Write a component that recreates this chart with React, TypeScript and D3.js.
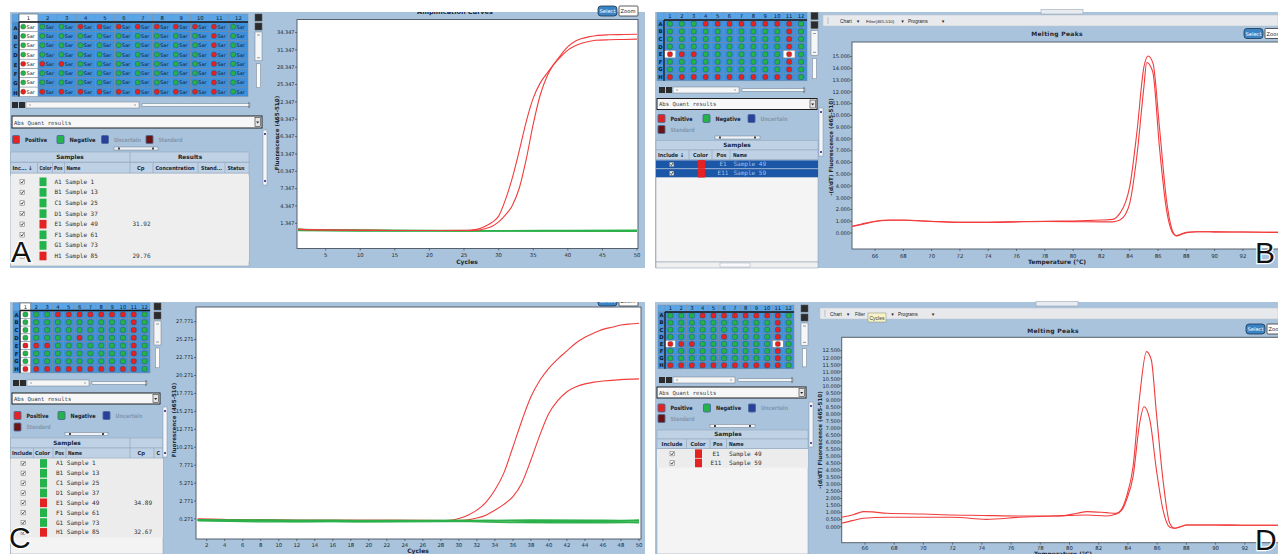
import React from 'react';
import * as d3 from 'd3';

const FONT = "'DejaVu Sans', 'Liberation Sans', sans-serif";
const MONO = "'DejaVu Sans Mono', 'Liberation Mono', monospace";
const ARIAL = "'Liberation Sans', Arial, sans-serif";
const BG = '#a9c3dc';
const BAND = '#bed1e5';
const RED = '#f23c3c';
const GREEN = '#2cb04a';
const SQ_RED = '#e52222';
const SQ_GREEN = '#24b24a';
const SQ_BLUE = '#2b3f9c';
const SQ_DARK = '#6e1212';

type P = [number, number];

// ---------------- plate layouts (g = negative, r = positive) ----------------
const plateAB = ['gggrrrrrrrrg', 'ggggggggggrg', 'ggggggggggrg', 'ggggggggggrg', 'rrrgggggggrg', 'ggggggggggrg', 'ggggggggggrg', 'rrrrrrrrrrrg'];
const plateCD = ['gggrrrrrrrrg', 'ggggggggggrg', 'ggggggggggrg', 'gggggrggggrg', 'rrrgggggggrg', 'ggggggggggrg', 'ggggggggggrg', 'rrrrrrrrrrrg'];
const rowLetters = ['A', 'B', 'C', 'D', 'E', 'F', 'G', 'H'];
const colNumbers = [1, 2, 3, 4, 5, 6, 7, 8, 9, 10, 11, 12];

// ---------------- sample tables ----------------
const samplePos = ['A1', 'B1', 'C1', 'D1', 'E1', 'F1', 'G1', 'H1'];
const sampleNo = [1, 13, 25, 37, 49, 61, 73, 85];
const sampleCls = ['g', 'g', 'g', 'g', 'r', 'g', 'g', 'r'];
const cpA = ['', '', '', '', '31.92', '', '', '29.76'];
const cpC = ['', '', '', '', '34.89', '', '', '32.67'];
const meltPos = ['E1', 'E11'];
const meltNo = [49, 59];

// ---------------- ticks ----------------
const ampATicksY = [1.347, 4.347, 7.347, 10.347, 13.347, 16.347, 19.347, 22.347, 25.347, 28.347, 31.347, 34.347];
const ampATicksX = [5, 10, 15, 20, 25, 30, 35, 40, 45, 50];
const ampCTicksY = [0.271, 2.771, 5.271, 7.771, 10.271, 12.771, 15.271, 17.771, 20.271, 22.771, 25.271, 27.771];
const ampCTicksX = [2, 4, 6, 8, 10, 12, 14, 16, 18, 20, 22, 24, 26, 28, 30, 32, 34, 36, 38, 40, 42, 44, 46, 48, 50];
const meltBTicksY = [0, 1, 2, 3, 4, 5, 6, 7, 8, 9, 10, 11, 12, 13, 14, 15];
const meltDTicksY = [0, 0.5, 1, 1.5, 2, 2.5, 3, 3.5, 4, 4.5, 5, 5.5, 6, 6.5, 7, 7.5, 8, 8.5, 9, 9.5, 10, 10.5, 11, 11.5, 12, 12.5];
const tempTicks = [66, 68, 70, 72, 74, 76, 78, 80, 82, 84, 86, 88, 90, 92];

// ---------------- panel A amplification (cycle, fluorescence) ----------------
const ampA_H1: P[] = [[1, 0.3], [5, 0.2], [10, 0.15], [15, 0.1], [20, 0.1], [25, 0.15], [26, 0.2], [27, 0.35], [28, 0.8], [29, 1.5], [30, 2.6], [31, 5.5], [32, 9.3], [33, 14.0], [34, 19.0], [35, 23.0], [36, 25.6], [37, 27.3], [38, 28.9], [39, 30.2], [40, 31.3], [41, 32.0], [42, 32.5], [43, 32.8], [44, 33.0], [46, 33.1], [48, 33.15], [50, 33.2]];
const ampA_E1: P[] = [[1, 0.3], [5, 0.2], [10, 0.15], [15, 0.1], [20, 0.1], [25, 0.1], [27, 0.15], [28, 0.4], [29, 0.8], [30, 1.6], [31, 2.8], [32, 4.5], [33, 7.5], [34, 12.5], [35, 18.5], [36, 23.5], [37, 26.8], [38, 28.9], [39, 30.5], [40, 31.9], [41, 32.8], [42, 33.3], [43, 33.6], [44, 33.8], [46, 33.95], [48, 34.0], [50, 34.05]];
const ampA_neg1: P[] = [[1, 0.35], [3, 0.25], [8, 0.15], [15, 0.1], [25, 0.1], [35, 0.05], [50, 0.0]];
const ampA_neg2: P[] = [[1, 0.2], [5, 0.1], [15, 0.05], [30, 0.1], [40, 0.05], [50, 0.05]];
const ampA_neg3: P[] = [[1, 0.1], [10, 0.0], [20, 0.05], [30, 0.0], [40, 0.1], [50, 0.1]];
const ampA_neg4: P[] = [[1, 0.3], [10, 0.2], [20, 0.15], [30, 0.1], [40, 0.15], [50, 0.2]];
const ampA_neg5: P[] = [[1, 0.15], [12, 0.1], [24, 0.0], [36, 0.05], [50, -0.05]];
const ampA_neg6: P[] = [[1, 0.25], [15, 0.15], [28, 0.1], [42, 0.05], [50, 0.1]];

// ---------------- panel C amplification ----------------
const ampC_H1: P[] = [[1, 0.25], [6, 0.15], [12, 0.1], [20, 0.1], [28, 0.05], [29, 0.1], [30, 0.35], [31, 0.8], [32, 1.5], [33, 2.6], [34, 4.3], [35, 6.7], [36, 10.3], [37, 14.0], [38, 17.3], [39, 19.6], [40, 21.3], [41, 22.6], [42, 23.7], [43, 24.8], [44, 25.6], [45, 26.2], [46, 26.7], [47, 27.0], [48, 27.3], [49, 27.45], [50, 27.55]];
const ampC_E1: P[] = [[1, 0.25], [6, 0.15], [12, 0.1], [20, 0.1], [29, 0.05], [30, 0.05], [31, 0.15], [32, 0.4], [33, 0.8], [34, 1.5], [35, 2.3], [36, 3.4], [37, 5.3], [38, 8.5], [39, 12.0], [40, 15.0], [41, 16.8], [42, 18.0], [43, 18.7], [44, 19.1], [45, 19.35], [46, 19.5], [48, 19.7], [50, 19.8]];
const ampC_neg1: P[] = [[1, 0.2], [6, 0.1], [12, -0.1], [20, 0.0], [30, 0.1], [40, -0.1], [50, 0.0]];
const ampC_neg2: P[] = [[1, 0.1], [8, 0.0], [16, 0.1], [24, -0.05], [34, 0.05], [44, -0.2], [50, -0.15]];
const ampC_neg3: P[] = [[1, 0.0], [10, -0.15], [20, -0.1], [30, -0.05], [36, -0.25], [46, -0.1], [50, -0.3]];
const ampC_neg4: P[] = [[1, 0.15], [10, 0.05], [18, 0.1], [28, 0.0], [38, 0.15], [48, 0.1], [50, 0.15]];
const ampC_neg5: P[] = [[1, 0.05], [14, -0.05], [22, -0.15], [32, -0.1], [42, -0.3], [50, -0.2]];
const ampC_neg6: P[] = [[1, 0.1], [9, 0.15], [19, 0.05], [26, 0.1], [40, 0.05], [50, 0.05]];

// ---------------- panel B melting peaks (temperature, -dF/dT) ----------------
const meltB_E1: P[] = [[64.4, 0.55], [65, 0.7], [66, 0.98], [67, 1.08], [68, 1.1], [70, 1.0], [72, 0.92], [74, 0.92], [76, 0.96], [78, 1.0], [80, 1.02], [81, 1.05], [82, 1.1], [82.8, 1.16], [83.3, 1.67], [83.7, 2.6], [84, 3.94], [84.5, 8.5], [85, 14.1], [85.3, 15.05], [85.65, 14.4], [86.1, 9.0], [86.6, 2.8], [87.1, -0.03], [87.3, -0.25], [87.6, -0.15], [88, 0.03], [88.8, 0.11], [90, 0.1], [92, 0.08], [94.5, 0.05]];
const meltB_E11: P[] = [[64.4, 0.6], [65, 0.75], [66, 1.0], [67, 1.1], [68, 1.08], [70, 0.98], [72, 0.9], [74, 0.9], [76, 0.95], [78, 0.98], [80, 0.97], [82, 0.95], [82.8, 0.95], [83.3, 1.1], [83.7, 1.6], [84, 2.52], [84.5, 6.5], [85, 12.4], [85.2, 14.5], [85.5, 14.1], [85.65, 13.6], [86.1, 7.3], [86.6, 1.96], [87.1, -0.1], [87.3, -0.22], [87.6, -0.1], [88, 0.05], [88.8, 0.11], [90, 0.1], [92, 0.08], [94.5, 0.05]];

// ---------------- panel D melting peaks ----------------
const meltD_E1: P[] = [[64.4, 0.67], [65.2, 0.85], [65.9, 1.07], [66.5, 1.05], [67.5, 0.95], [70, 0.9], [72, 0.83], [74, 0.8], [76.6, 0.76], [79.3, 0.76], [80.5, 0.95], [81.2, 1.07], [82.5, 1.0], [83.2, 0.95], [83.6, 1.3], [83.9, 2.13], [84.35, 4.26], [84.8, 9.23], [85.27, 12.43], [85.6, 11.84], [85.95, 8.05], [86.4, 3.32], [86.86, 0.24], [87.2, -0.11], [87.6, 0.0], [88, 0.12], [90, 0.12], [92, 0.1], [94.5, 0.1]];
const meltD_E11: P[] = [[64.4, 0.24], [65.2, 0.45], [65.9, 0.6], [67.5, 0.67], [70, 0.67], [72, 0.67], [74.3, 0.52], [76.6, 0.67], [78.9, 0.76], [81.2, 0.83], [82.5, 0.76], [83.2, 0.9], [83.6, 1.2], [83.9, 1.9], [84.35, 3.55], [84.8, 7.34], [85.1, 8.52], [85.5, 7.58], [85.95, 4.03], [86.4, 1.19], [86.86, -0.04], [87.2, -0.11], [87.6, 0.0], [88, 0.12], [90, 0.12], [92, 0.1], [94.5, 0.1]];

// ======================================================================
function Plate(p: { x: number; y: number; w: number; hh: number; rh: number; layout: string[]; sam: boolean; selCol?: number; selCells?: number[][] }) {
  const lw = 7;
  const cw = (p.w - lw) / 12;
  const top = p.y + p.hh;
  const bottom = top + 8 * p.rh;
  return (
    <g>
      <rect x={p.x} y={p.y} width={lw} height={p.hh} fill="#5aa4e8" stroke="#7e90a3" strokeWidth={0.5} />
      {colNumbers.map((n, c) => {
        const cx = p.x + lw + c * cw;
        const sel = p.selCol === c;
        return (
          <g key={'h' + c}>
            <rect x={cx} y={p.y} width={cw} height={p.hh} fill={sel ? '#ffffff' : '#5aa4e8'} stroke={sel ? '#333' : '#7e90a3'} strokeWidth={0.5} />
            <text x={cx + cw / 2} y={p.y + p.hh - 1.6} fontSize={5.3} textAnchor="middle" fill="#0e1a26" fontFamily={FONT}>{n}</text>
          </g>
        );
      })}
      {rowLetters.map((L, r) => {
        const ry = top + r * p.rh;
        return (
          <g key={'r' + r}>
            <rect x={p.x} y={ry} width={lw} height={p.rh} fill="#3f90dc" stroke="#7e90a3" strokeWidth={0.5} />
            <text x={p.x + lw / 2} y={ry + p.rh - 1.8} fontSize={5.3} textAnchor="middle" fill="#0e1a26" fontWeight="bold" fontFamily={FONT}>{L}</text>
            {p.layout[r].split('').map((k, c) => {
              const cx = p.x + lw + c * cw;
              const sel = p.selCol === c || (p.selCells || []).some(([rr, cc]) => rr === r && cc === c);
              const col = k === 'r' ? SQ_RED : SQ_GREEN;
              return (
                <g key={'c' + c}>
                  <rect x={cx} y={ry} width={cw} height={p.rh} fill={sel ? '#ffffff' : '#3f90dc'} stroke="#7a8898" strokeWidth={0.5} />
                  {p.sam ? (
                    <g>
                      <rect x={cx + 1.8} y={ry + p.rh / 2 - 2.4} width={4.8} height={4.8} rx={1.8} fill={col} stroke="#233" strokeWidth={0.3} />
                      <text x={cx + 7.6} y={ry + p.rh / 2 + 2} fontSize={5} fill="#15202a" fontFamily={FONT}>Sar</text>
                    </g>
                  ) : (
                    <rect x={cx + cw / 2 - 2.5} y={ry + p.rh / 2 - 2.5} width={5} height={5} rx={1.6} fill={col} stroke="#233" strokeWidth={0.3} />
                  )}
                </g>
              );
            })}
          </g>
        );
      })}
      <line x1={p.x + lw} x2={p.x + p.w} y1={top} y2={top} stroke="#161616" strokeWidth={1.3} />
      <line x1={p.x + lw} x2={p.x + lw} y1={top} y2={bottom} stroke="#161616" strokeWidth={1.3} />
    </g>
  );
}

function VScroll({ x, y, h }: { x: number; y: number; h: number }) {
  return (
    <g>
      <rect x={x} y={y} width={7} height={7} fill="#2c2c2c" stroke="#555" strokeWidth={0.5} />
      <rect x={x} y={y + 9} width={7} height={7} fill="#2c2c2c" stroke="#555" strokeWidth={0.5} />
      <rect x={x} y={y + 18} width={7} height={h * 0.4} fill="#f6f6f6" stroke="#6d7d8c" strokeWidth={0.5} />
      <line x1={x + 2} x2={x + 5} y1={y + 21} y2={y + 21} stroke="#555" strokeWidth={0.6} />
      <line x1={x + 2} x2={x + 5} y1={y + 15 + h * 0.4} y2={y + 15 + h * 0.4} stroke="#555" strokeWidth={0.6} />
      <rect x={x + 1.5} y={y + 21 + h * 0.4} width={4} height={h * 0.33} fill="#fbfbfb" stroke="#6d7d8c" strokeWidth={0.5} />
    </g>
  );
}

function HScroll({ x0, x1, y, mid }: { x0: number; x1: number; y: number; mid: number }) {
  return (
    <g>
      <rect x={x0} y={y} width={6} height={6} fill="#2c2c2c" />
      <rect x={x0 + 7} y={y} width={6} height={6} fill="#2c2c2c" />
      <rect x={x0 + 14} y={y} width={mid - x0 - 14} height={6} fill="#f6f6f6" stroke="#6d7d8c" strokeWidth={0.5} />
      <line x1={x0 + 17} x2={x0 + 19} y1={y + 3} y2={y + 3} stroke="#666" strokeWidth={0.6} />
      <line x1={mid - 5} x2={mid - 3} y1={y + 3} y2={y + 3} stroke="#666" strokeWidth={0.6} />
      <rect x={mid + 3} y={y + 1.8} width={x1 - mid - 3} height={2.4} fill="#fafafa" stroke="#6d7d8c" strokeWidth={0.5} />
      <line x1={x1 - 1} x2={x1 - 1} y1={y} y2={y + 6} stroke="#555" strokeWidth={0.8} />
    </g>
  );
}

function Dropdown({ x0, x1, y, h }: { x0: number; x1: number; y: number; h: number }) {
  return (
    <g>
      <rect x={x0} y={y} width={x1 - x0} height={h} fill="#f7f7f7" stroke="#1e1e1e" strokeWidth={1} />
      <text x={x0 + 2} y={y + h - 3.4} fontSize={5.6} fill="#38424c" fontFamily={MONO}>Abs Quant results</text>
      <rect x={x1 - 7} y={y + 1.5} width={5.5} height={h - 3} fill="#e4e4e4" stroke="#333" strokeWidth={0.6} />
      <path d={`M${x1 - 5.8},${y + h / 2 - 0.5} L${x1 - 2.8},${y + h / 2 - 0.5} L${x1 - 4.3},${y + h / 2 + 1.5} Z`} fill="#222" />
    </g>
  );
}

function Checkbox({ x, y, light }: { x: number; y: number; light?: boolean }) {
  return (
    <g>
      <rect x={x} y={y - 2.2} width={4.4} height={4.4} fill={light ? '#e8eef6' : '#fbfbfb'} stroke="#666" strokeWidth={0.5} />
      <path d={`M${x + 0.9},${y} L${x + 1.9},${y + 1.2} L${x + 3.6},${y - 1.4}`} fill="none" stroke="#222" strokeWidth={0.8} />
    </g>
  );
}

type LegendItem = { x: number; y: number; color: string; label: string; w: number; dim?: boolean };
type Hdr = { x: number; label: string; w?: number; anchor?: string };
type Row = { pos: string; name: string; color: string; cp?: string };

function Sidebar(p: {
  plate: any; vs: { x: number; y: number; h: number }; hs: { x0: number; x1: number; y: number; mid: number };
  dd: { x0: number; x1: number; y: number; h: number }; legend: LegendItem[]; slider: { x0: number; x1: number; y: number };
  band: { x0: number; x1: number; y: number; h: number; texts: Hdr[]; seps: number[] };
  head: { y: number; h: number; cols: Hdr[]; seps: number[] };
  body: { x0: number; x1: number; y0: number; y1: number; rowsFill: string; fill: string };
  rows: Row[]; rowY0: number; rowH: number; sel: boolean; checkX: number; colorX: number; posX: number; nameX: number | null; cpX: number;
  tvs: { x: number; y: number; h: number };
}) {
  const rowsBottom = p.rowY0 + p.rows.length * p.rowH;
  return (
    <g fontFamily={FONT}>
      <Plate {...p.plate} />
      <VScroll {...p.vs} />
      <HScroll {...p.hs} />
      <Dropdown {...p.dd} />
      {p.legend.map((it, i) => (
        <g key={'lg' + i}>
          <rect x={it.x} y={it.y} width={7} height={8} rx={1} fill={it.color} stroke="#4a6c99" strokeWidth={0.9} />
          <text x={it.x + 12.5} y={it.y + 6.3} fontSize={5.8} fontWeight="bold" fill={it.dim ? '#8597ad' : '#18222e'} textLength={it.w} lengthAdjust="spacingAndGlyphs">{it.label}</text>
        </g>
      ))}
      <rect x={p.slider.x0} y={p.slider.y - 1.5} width={p.slider.x1 - p.slider.x0} height={3} fill="#f0f3f7" stroke="#6d7d8c" strokeWidth={0.5} />
      <rect x={p.slider.x0 + 4} y={p.slider.y - 1} width={2} height={2} fill="#444" />
      <rect x={p.slider.x1 - 6} y={p.slider.y - 1} width={2} height={2} fill="#444" />
      {/* table */}
      <rect x={p.body.x0} y={p.body.y0} width={p.body.x1 - p.body.x0} height={p.body.y1 - p.body.y0} fill={p.body.fill} stroke="#8798aa" strokeWidth={0.5} />
      <rect x={p.body.x0} y={p.rowY0} width={p.body.x1 - p.body.x0} height={rowsBottom - p.rowY0} fill={p.body.rowsFill} />
      <rect x={p.band.x0} y={p.band.y} width={p.band.x1 - p.band.x0} height={p.band.h} fill={BAND} stroke="#8fa3b8" strokeWidth={0.5} />
      {p.band.texts.map((t, i) => (
        <text key={'bt' + i} x={t.x} y={p.band.y + p.band.h - 2.6} fontSize={5.8} fontWeight="bold" textAnchor="middle" fill="#1b2632">{t.label}</text>
      ))}
      {p.band.seps.map((s, i) => (
        <line key={'bs' + i} x1={s} x2={s} y1={p.band.y} y2={p.band.y + p.band.h} stroke="#8fa3b8" strokeWidth={0.6} />
      ))}
      <rect x={p.band.x0} y={p.head.y} width={p.band.x1 - p.band.x0} height={p.head.h} fill={BAND} stroke="#8fa3b8" strokeWidth={0.5} />
      {p.head.cols.map((t, i) => (
        <text key={'hc' + i} x={t.x} y={p.head.y + p.head.h - 2.6} fontSize={5.5} fontWeight="bold" textAnchor={(t.anchor as any) || 'start'} fill="#1b2632"
          textLength={t.w} lengthAdjust="spacingAndGlyphs">{t.label}</text>
      ))}
      {p.head.seps.map((s, i) => (
        <line key={'hs' + i} x1={s} x2={s} y1={p.head.y} y2={p.head.y + p.head.h} stroke="#8fa3b8" strokeWidth={0.6} />
      ))}
      {p.rows.map((r, i) => {
        const y0 = p.rowY0 + i * p.rowH;
        const cy = y0 + p.rowH / 2;
        const tc = p.sel ? '#9fc2ee' : '#2a2f36';
        return (
          <g key={'row' + i}>
            {p.sel && <rect x={p.body.x0} y={y0 + 0.3} width={p.body.x1 - p.body.x0} height={p.rowH - 0.6} fill="#1c56a6" />}
            <Checkbox x={p.checkX} y={cy} light={p.sel} />
            <rect x={p.colorX} y={cy - 4.3} width={7} height={8.6} fill={r.color} />
            {p.nameX === null ? (
              <text x={p.posX} y={cy + 2} fontSize={6} fontFamily={MONO} fill={tc}>{r.pos + ' ' + r.name}</text>
            ) : (
              <g>
                <text x={p.posX} y={cy + 2} fontSize={6} fontFamily={MONO} fill={tc} textAnchor="middle">{r.pos}</text>
                <text x={p.nameX} y={cy + 2} fontSize={6} fontFamily={MONO} fill={tc}>{r.name}</text>
              </g>
            )}
            {r.cp && <text x={p.cpX} y={cy + 2} fontSize={6} fontFamily={MONO} fill={tc}>{r.cp}</text>}
          </g>
        );
      })}
      <rect x={p.tvs.x} y={p.tvs.y} width={4} height={p.tvs.h} fill="#f4f6f9" stroke="#7d8fa3" strokeWidth={0.5} />
      <rect x={p.tvs.x + 1} y={p.tvs.y + 3} width={2} height={2} fill="#5a4fa0" />
      <rect x={p.tvs.x + 1} y={p.tvs.y + p.tvs.h - 5} width={2} height={2} fill="#5a4fa0" />
    </g>
  );
}

function Chart(p: {
  id: string; left: number; right: number; top: number; bottom: number;
  xDomain: [number, number]; xRange: [number, number]; yDomain: [number, number];
  xTicks: number[]; yTicks: number[]; yDigits: number;
  reds: P[][]; greens: P[][]; greensOnTop: boolean;
  yLabel: string; yLabelX: number; yLabelY: number; xLabel: string; xLabelX: number; xLabelY: number;
  yTickRight: number; xTickBase: number;
}) {
  const xs = d3.scaleLinear().domain(p.xDomain).range(p.xRange);
  const ys = d3.scaleLinear().domain(p.yDomain).range([p.bottom, p.top]);
  const line = d3.line<P>().x(d => xs(d[0])).y(d => ys(d[1])).curve(d3.curveMonotoneX);
  const redEls = p.reds.map((s, i) => <path key={'rd' + i} d={line(s) || ''} fill="none" stroke={RED} strokeWidth={1.1} />);
  const greenEls = p.greens.map((s, i) => <path key={'gr' + i} d={line(s) || ''} fill="none" stroke={GREEN} strokeWidth={1.1} />);
  return (
    <g fontFamily={FONT}>
      <defs>
        <clipPath id={p.id}>
          <rect x={p.left} y={p.top} width={p.right - p.left} height={p.bottom - p.top} />
        </clipPath>
      </defs>
      <rect x={p.left} y={p.top} width={p.right - p.left} height={p.bottom - p.top} fill="#ffffff" stroke="#56616d" strokeWidth={1} />
      <g clipPath={`url(#${p.id})`}>
        {p.greensOnTop ? [redEls, greenEls] : [greenEls, redEls]}
      </g>
      {p.yTicks.map((t, i) => (
        <g key={'yt' + i}>
          <line x1={p.left - 2} x2={p.left} y1={ys(t)} y2={ys(t)} stroke="#333" strokeWidth={0.6} />
          <text x={p.yTickRight} y={ys(t) + 1.8} fontSize={5} textAnchor="end" fill="#1d2731">{t.toFixed(p.yDigits)}</text>
        </g>
      ))}
      {p.xTicks.map((t, i) => (
        <g key={'xt' + i}>
          <line x1={xs(t)} x2={xs(t)} y1={p.bottom} y2={p.bottom + 2} stroke="#333" strokeWidth={0.6} />
          <text x={xs(t)} y={p.xTickBase} fontSize={5.3} textAnchor="middle" fill="#1d2731">{t}</text>
        </g>
      ))}
      <text transform={`translate(${p.yLabelX},${p.yLabelY}) rotate(-90)`} fontSize={5.6} fontWeight="bold" textAnchor="middle" fill="#1d2731">{p.yLabel}</text>
      <text x={p.xLabelX} y={p.xLabelY} fontSize={6} fontWeight="bold" textAnchor="middle" fill="#1d2731">{p.xLabel}</text>
    </g>
  );
}

function Toolbar({ x0, x1, y, h, cx, tooltip }: { x0: number; x1: number; y: number; h: number; cx: number; tooltip?: boolean }) {
  const by = y + h - 3.5;
  return (
    <g fontFamily={ARIAL}>
      <rect x={x0} y={y} width={x1 - x0} height={h} fill="#e7e9ec" stroke="#b9c2cc" strokeWidth={0.5} />
      <line x1={x0 + 5} x2={x0 + 5} y1={y + 2} y2={y + h - 2} stroke="#9aa6b2" strokeWidth={0.6} />
      <text x={cx} y={by} fontSize={4.8} fill="#222">Chart</text>
      <text x={cx + 16} y={by} fontSize={4.2} fill="#222">▼</text>
      {tooltip ? (
        <text x={cx + 25} y={by} fontSize={4.5} fill="#222">Filter</text>
      ) : (
        <text x={cx + 26} y={by} fontSize={4.3} fill="#222">Filter(465-510)</text>
      )}
      <text x={cx + 60.5} y={by} fontSize={4.2} fill="#222">▼</text>
      <text x={cx + 68} y={by} fontSize={4.6} fill="#222">Programs</text>
      <text x={cx + 101} y={by} fontSize={4.2} fill="#222">▼</text>
      {tooltip && (
        <g>
          <rect x={cx + 38} y={y + 5} width={18} height={9} fill="#f7f3c8" stroke="#8a8a70" strokeWidth={0.5} />
          <text x={cx + 47} y={y + 11.8} fontSize={5} textAnchor="middle" fill="#333">Cycles</text>
        </g>
      )}
    </g>
  );
}

function Buttons({ x, y }: { x: number; y: number }) {
  return (
    <g fontFamily={FONT}>
      <rect x={x} y={y} width={19} height={10} rx={3} fill="#3a84c6" stroke="#1c3550" strokeWidth={0.8} />
      <text x={x + 9.5} y={y + 7} fontSize={5.2} textAnchor="middle" fill="#ffffff">Select</text>
      <rect x={x + 21} y={y} width={19} height={10} rx={1} fill="#ffffff" stroke="#333" strokeWidth={0.8} />
      <text x={x + 22.5} y={y + 7} fontSize={5.2} fill="#222">Zoom</text>
    </g>
  );
}

function Letter({ x, y, t }: { x: number; y: number; t: string }) {
  return (
    <text x={x} y={y} fontSize={30} fontFamily={ARIAL} fill="#111" stroke="#ffffff" strokeWidth={2.5} style={{ paintOrder: 'stroke' } as any}>{t}</text>
  );
}

const mkRows = (cp: string[]): Row[] => samplePos.map((pos, i) => ({ pos, name: `Sample ${sampleNo[i]}`, color: sampleCls[i] === 'r' ? SQ_RED : SQ_GREEN, cp: cp[i] }));
const meltRows: Row[] = meltPos.map((pos, i) => ({ pos, name: `Sample ${meltNo[i]}`, color: SQ_RED }));

export default function App() {
  return (
    <svg width={1278} height={554} viewBox="0 0 1278 554" style={{ position: 'absolute', left: 0, top: 0, background: '#ffffff' }}>
      <defs>
        <clipPath id="clipA"><rect x={10} y={12} width={635} height={256} /></clipPath>
        <clipPath id="clipC"><rect x={10} y={302} width={635} height={252} /></clipPath>
        <clipPath id="clipB"><rect x={655} y={12} width={623} height={256} /></clipPath>
        <clipPath id="clipD"><rect x={655} y={302} width={623} height={252} /></clipPath>
      </defs>

      {/* ================= PANEL A ================= */}
      <rect x={10} y={12} width={635} height={256} fill={BG} />
      <Buttons x={598} y={6} />
      <g clipPath="url(#clipA)">
        <text x={455} y={13.5} fontSize={6.5} fontWeight="bold" textAnchor="middle" fontFamily={FONT} fill="#1d2731">Amplification Curves</text>
      </g>
      <Sidebar
        plate={{ x: 12, y: 14, w: 236, hh: 8, rh: 9.3, layout: plateAB, sam: true, selCol: 0 }}
        vs={{ x: 255, y: 14, h: 72 }}
        hs={{ x0: 12, x1: 250, y: 102, mid: 139 }}
        dd={{ x0: 12, x1: 262, y: 116, h: 12 }}
        legend={[
          { x: 12.5, y: 135.5, color: SQ_RED, label: 'Positive', w: 22 },
          { x: 57, y: 135.5, color: SQ_GREEN, label: 'Negative', w: 26 },
          { x: 101.5, y: 135.5, color: SQ_BLUE, label: 'Uncertain', w: 27, dim: true },
          { x: 146, y: 135.5, color: SQ_DARK, label: 'Standard', w: 24, dim: true },
        ]}
        slider={{ x0: 114, x1: 158, y: 148.5 }}
        band={{ x0: 10.5, x1: 249, y: 152, h: 10, texts: [{ x: 70, label: 'Samples' }, { x: 190, label: 'Results' }], seps: [130] }}
        head={{ y: 162.5, h: 10.5, cols: [{ x: 12.5, label: 'Inc... ↓', w: 20 }, { x: 39.5, label: 'Color', w: 12 }, { x: 54, label: 'Pos', w: 8.5 }, { x: 66.5, label: 'Name', w: 14 }, { x: 137, label: 'Cp', w: 7.5 }, { x: 155.5, label: 'Concentration', w: 39 }, { x: 201, label: 'Stand...', w: 21 }, { x: 227.5, label: 'Status', w: 17 }], seps: [37.5, 52.5, 64.5, 130, 153, 198, 225] }}
        body={{ x0: 10.5, x1: 249, y0: 173, y1: 266, rowsFill: '#eeeeee', fill: '#efefef' }}
        rows={mkRows(cpA)} rowY0={176.5} rowH={10.6} sel={false}
        checkX={20} colorX={39.5} posX={54.5} nameX={null} cpX={132.5}
        tvs={{ x: 263, y: 130, h: 55 }}
      />
      <Chart id="plotA" left={297} right={638} top={19.5} bottom={248.5}
        xDomain={[1, 50]} xRange={[298, 637]} yDomain={[-3.0, 36.6]}
        xTicks={ampATicksX} yTicks={ampATicksY} yDigits={3}
        reds={[ampA_H1, ampA_E1]} greens={[ampA_neg1, ampA_neg2, ampA_neg3, ampA_neg4, ampA_neg5, ampA_neg6]} greensOnTop={false}
        yLabel="Fluorescence (465-510)" yLabelX={279} yLabelY={133}
        xLabel="Cycles" xLabelX={467} xLabelY={264}
        yTickRight={294.5} xTickBase={257} />
      <Letter x={11} y={262} t="A" />

      {/* ================= PANEL B ================= */}
      <rect x={655} y={12} width={623} height={256} fill={BG} />
      <Sidebar
        plate={{ x: 657, y: 12.5, w: 150, hh: 7.5, rh: 7.6, layout: plateAB, sam: false, selCells: [[4, 0], [4, 10]] }}
        vs={{ x: 811, y: 12.5, h: 62 }}
        hs={{ x0: 659, x1: 805, y: 87, mid: 739 }}
        dd={{ x0: 657, x1: 817, y: 98.5, h: 11 }}
        legend={[
          { x: 658, y: 114.5, color: SQ_RED, label: 'Positive', w: 22 },
          { x: 703, y: 114.5, color: SQ_GREEN, label: 'Negative', w: 25 },
          { x: 748, y: 114.5, color: SQ_BLUE, label: 'Uncertain', w: 27, dim: true },
          { x: 658, y: 125.5, color: SQ_DARK, label: 'Standard', w: 24, dim: true },
        ]}
        slider={{ x0: 715, x1: 760, y: 137.5 }}
        band={{ x0: 656, x1: 818, y: 140.5, h: 9.5, texts: [{ x: 737, label: 'Samples' }], seps: [] }}
        head={{ y: 150, h: 9.5, cols: [{ x: 658, label: 'Include ↓', w: 26 }, { x: 693, label: 'Color', w: 15 }, { x: 716.5, label: 'Pos', w: 10 }, { x: 733, label: 'Name', w: 14 }], seps: [689, 712, 730] }}
        body={{ x0: 656, x1: 818, y0: 159.5, y1: 262, rowsFill: '#f4f4f4', fill: '#f4f4f4' }}
        rows={meltRows} rowY0={160} rowH={8.8} sel={true}
        checkX={669.5} colorX={698} posX={723} nameX={733.5} cpX={800}
        tvs={{ x: 819, y: 108, h: 48 }}
      />
      <rect x={656} y={262} width={162} height={6} fill="#f0f0f0" stroke="#8798aa" strokeWidth={0.5} />
      <rect x={720} y={263} width={30} height={4} fill="#fafafa" stroke="#8798aa" strokeWidth={0.4} />
      <Toolbar x0={823} x1={1278} y={15} h={11} cx={840} />
      <rect x={1041} y={9.5} width={42} height={4.5} fill="#e8ecf0" stroke="#8899aa" strokeWidth={0.5} />
      <text x={1057} y={36} fontSize={6} fontWeight="bold" textAnchor="middle" fontFamily={FONT} fill="#1d2731" letterSpacing={0.3}>Melting Peaks</text>
      <g clipPath="url(#clipB)"><Buttons x={1244} y={28.5} /></g>
      <g clipPath="url(#clipB)">
        <Chart id="plotB" left={852} right={1279} top={42} bottom={249}
          xDomain={[64.37, 94.48]} xRange={[852, 1278]} yDomain={[-1.36, 16.24]}
          xTicks={tempTicks} yTicks={meltBTicksY} yDigits={3}
          reds={[meltB_E1, meltB_E11]} greens={[]} greensOnTop={false}
          yLabel="-(d/dT) Fluorescence (465-510)" yLabelX={833} yLabelY={147}
          xLabel="Temperature (°C)" xLabelX={1057} xLabelY={264}
          yTickRight={850} xTickBase={258} />
      </g>
      <Letter x={1255} y={263} t="B" />

      {/* ================= PANEL C ================= */}
      <rect x={10} y={302} width={635} height={252} fill={BG} />
      <g clipPath="url(#clipC)"><Buttons x={598} y={296} /></g>
      <Sidebar
        plate={{ x: 13, y: 303, w: 137, hh: 7.5, rh: 7.8, layout: plateCD, sam: false, selCol: 0 }}
        vs={{ x: 154, y: 303, h: 60 }}
        hs={{ x0: 13, x1: 147, y: 380, mid: 89 }}
        dd={{ x0: 12, x1: 160, y: 393, h: 11 }}
        legend={[
          { x: 14, y: 411.5, color: SQ_RED, label: 'Positive', w: 22 },
          { x: 58, y: 411.5, color: SQ_GREEN, label: 'Negative', w: 25 },
          { x: 103, y: 411.5, color: SQ_BLUE, label: 'Uncertain', w: 27, dim: true },
          { x: 14, y: 423, color: SQ_DARK, label: 'Standard', w: 24, dim: true },
        ]}
        slider={{ x0: 65, x1: 108, y: 434 }}
        band={{ x0: 10.5, x1: 163, y: 438, h: 10, texts: [{ x: 67, label: 'Samples' }], seps: [130] }}
        head={{ y: 448, h: 10, cols: [{ x: 12, label: 'Include', w: 20 }, { x: 35, label: 'Color', w: 15 }, { x: 55, label: 'Pos', w: 9 }, { x: 68, label: 'Name', w: 14 }, { x: 137.5, label: 'Cp', w: 7.5 }, { x: 156.5, label: 'C', w: 3.5 }], seps: [33.5, 53, 66, 130, 154] }}
        body={{ x0: 10.5, x1: 163, y0: 458, y1: 554, rowsFill: '#ececec', fill: '#f3f3f3' }}
        rows={mkRows(cpC)} rowY0={458.5} rowH={9.85} sel={false}
        checkX={21} colorX={40} posX={56} nameX={null} cpX={134}
        tvs={{ x: 163, y: 407, h: 50 }}
      />
      <Chart id="plotC" left={196} right={641} top={307} bottom={539}
        xDomain={[1, 50]} xRange={[197.7, 639]} yDomain={[-2.52, 29.82]}
        xTicks={ampCTicksX} yTicks={ampCTicksY} yDigits={3}
        reds={[ampC_H1, ampC_E1]} greens={[ampC_neg1, ampC_neg2, ampC_neg3, ampC_neg4, ampC_neg5, ampC_neg6]} greensOnTop={true}
        yLabel="Fluorescence (465-510)" yLabelX={176} yLabelY={420}
        xLabel="Cycles" xLabelX={418} xLabelY={553}
        yTickRight={193.5} xTickBase={547} />
      <Letter x={9} y={548} t="C" />

      {/* ================= PANEL D ================= */}
      <rect x={655} y={302} width={623} height={252} fill={BG} />
      <Sidebar
        plate={{ x: 658, y: 305, w: 136, hh: 7, rh: 7.1, layout: plateCD, sam: false, selCells: [[4, 0], [4, 10]] }}
        vs={{ x: 801, y: 305, h: 56 }}
        hs={{ x0: 659, x1: 793, y: 377, mid: 735 }}
        dd={{ x0: 657, x1: 806, y: 387, h: 11 }}
        legend={[
          { x: 658, y: 404, color: SQ_RED, label: 'Positive', w: 22 },
          { x: 703.5, y: 404, color: SQ_GREEN, label: 'Negative', w: 25 },
          { x: 748.5, y: 404, color: SQ_BLUE, label: 'Uncertain', w: 27, dim: true },
          { x: 658, y: 414.5, color: SQ_DARK, label: 'Standard', w: 24, dim: true },
        ]}
        slider={{ x0: 710, x1: 755, y: 426 }}
        band={{ x0: 657, x1: 808, y: 430, h: 9, texts: [{ x: 728, label: 'Samples' }], seps: [] }}
        head={{ y: 439, h: 9.5, cols: [{ x: 661.5, label: 'Include', w: 21 }, { x: 690.5, label: 'Color', w: 15 }, { x: 713, label: 'Pos', w: 9.5 }, { x: 729, label: 'Name', w: 14.5 }], seps: [686.5, 710, 726.5] }}
        body={{ x0: 657, x1: 808, y0: 448.5, y1: 554, rowsFill: '#ececec', fill: '#f4f4f4' }}
        rows={meltRows} rowY0={449} rowH={9.3} sel={false}
        checkX={670} colorX={695} posX={716} nameX={729} cpX={800}
        tvs={{ x: 809, y: 402, h: 45 }}
      />
      <Toolbar x0={820} x1={1278} y={308} h={11} cx={830} tooltip={true} />
      <rect x={1036} y={301.5} width={42} height={4.5} fill="#e8ecf0" stroke="#8899aa" strokeWidth={0.5} />
      <text x={1053} y={332.5} fontSize={6} fontWeight="bold" textAnchor="middle" fontFamily={FONT} fill="#1d2731" letterSpacing={0.3}>Melting Peaks</text>
      <g clipPath="url(#clipD)"><Buttons x={1246} y={324} /></g>
      <g clipPath="url(#clipD)">
        <Chart id="plotD" left={841.7} right={1279} top={337.3} bottom={542.7}
          xDomain={[64.41, 94.27]} xRange={[841.7, 1278]} yDomain={[-1.136, 13.45]}
          xTicks={tempTicks} yTicks={meltDTicksY} yDigits={3}
          reds={[meltD_E1, meltD_E11]} greens={[]} greensOnTop={false}
          yLabel="-(d/dT) Fluorescence (465-510)" yLabelX={822} yLabelY={440}
          xLabel="Temperature (°C)" xLabelX={1063} xLabelY={556}
          yTickRight={840} xTickBase={549.5} />
      </g>
      <Letter x={1255} y={550} t="D" />
    </svg>
  );
}
